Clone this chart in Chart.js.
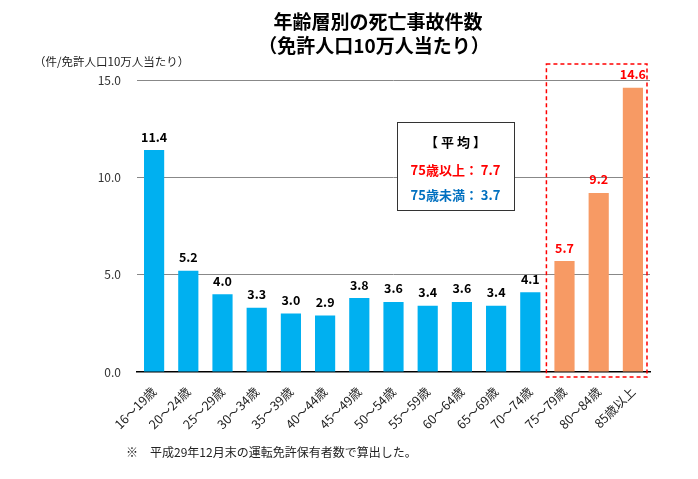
<!DOCTYPE html>
<html>
<head>
<meta charset="utf-8">
<script src="https://cdn.jsdelivr.net/npm/chart.js@4"></script>
<style>
  html, body { margin: 0; padding: 0; background: #fff; }
  #wrap { width: 698px; height: 479px; }
</style>
</head>
<body>
<div id="wrap"><canvas id="chart1" width="698" height="479"></canvas></div>
<script>
const ageGroups = ['16～19歳', '20～24歳', '25～29歳', '30～34歳', '35～39歳', '40～44歳', '45～49歳',
  '50～54歳', '55～59歳', '60～64歳', '65～69歳', '70～74歳', '75～79歳', '80～84歳', '85歳以上'];
const deathRate = [11.4, 5.2, 4.0, 3.3, 3.0, 2.9, 3.8, 3.6, 3.4, 3.6, 3.4, 4.1, 5.7, 9.2, 14.6];
const yTicks = [0, 5, 10, 15];
const avgOver75 = 7.7;
const avgUnder75 = 3.7;

const JP = '"Noto Sans CJK JP", "Noto Sans", sans-serif';
const blue = '#00B0F0';
const orange = '#F79A64';
const red = '#FF0000';

// older drivers (75+) get the orange colour
const barColors = ageGroups.map((a, i) => i >= 12 ? orange : blue);

const extras = {
  id: 'extras',
  afterDatasetsDraw(chart) {
    const c = chart.ctx;
    const meta = chart.getDatasetMeta(0);
    c.save();
    // value labels
    c.font = 'bold 12.5px ' + JP;
    c.textAlign = 'center';
    c.textBaseline = 'bottom';
    meta.data.forEach((bar, i) => {
      c.fillStyle = i >= 12 ? red : '#000';
      c.fillText(deathRate[i].toFixed(1), bar.x, bar.y - 7);
    });

    // dashed box round the 75+ bars
    const y = chart.scales.y;
    const first = meta.data[12], last = meta.data[14];
    const half = first.width / 2;
    const left = first.x - half - 8, right = last.x + half + 4;
    const top = y.getPixelForValue(15) - 16, bottom = y.getPixelForValue(0) + 5;
    c.strokeStyle = red;
    c.lineWidth = 1.5;
    c.setLineDash([4, 3]);
    c.strokeRect(left, top, right - left, bottom - top);
    c.setLineDash([]);

    // average box
    const bx = 397, by = 122, bw = 117, bh = 88;
    c.fillStyle = '#fff';
    c.fillRect(bx, by, bw, bh);
    c.strokeStyle = '#333';
    c.lineWidth = 1;
    c.strokeRect(bx + 0.5, by + 0.5, bw, bh);
    c.textAlign = 'center';
    c.textBaseline = 'middle';
    c.font = 'bold 13px ' + JP;
    c.fillStyle = '#000';
    c.fillText('【 平 均 】', bx + bw / 2, by + 20);
    c.fillStyle = red;
    c.fillText('75歳以上： ' + avgOver75.toFixed(1), bx + bw / 2, by + 48);
    c.fillStyle = '#0070C0';
    c.fillText('75歳未満： ' + avgUnder75.toFixed(1), bx + bw / 2, by + 73);

    // titles
    c.fillStyle = '#000';
    c.font = 'bold 19px ' + JP;
    c.fillText('年齢層別の死亡事故件数', 378, 22);
    c.fillText('（免許人口10万人当たり）', 374, 46);
    c.font = '11.5px ' + JP;
    c.textAlign = 'left';
    c.fillStyle = '#222';
    c.fillText('（件/免許人口10万人当たり）', 34, 62);
    c.font = '12px ' + JP;
    c.fillText('※　平成29年12月末の運転免許保有者数で算出した。', 126, 452);
    c.restore();
  }
};

new Chart(document.getElementById('chart1'), {
  type: 'bar',
  data: {
    labels: ageGroups,
    datasets: [{
      data: deathRate,
      backgroundColor: barColors,
      categoryPercentage: 1,
      barPercentage: 0.59
    }]
  },
  options: {
    responsive: false,
    animation: false,
    layout: { padding: { top: 80, right: 48, left: 0, bottom: 0 } },
    plugins: { legend: { display: false }, tooltip: { enabled: false } },
    scales: {
      y: {
        min: 0, max: 15,
        afterFit(s) { s.width = 137; },
        afterBuildTicks(s) { s.ticks = yTicks.map(v => ({ value: v })); },
        border: { display: false },
        grid: {
          drawTicks: false,
          color: ctx => ctx.tick.value === 0 ? 'rgba(0,0,0,0)' : '#888',
          lineWidth: 1
        },
        ticks: {
          padding: 16,
          color: '#333',
          font: { family: JP, size: 12 },
          callback: v => v.toFixed(1)
        }
      },
      x: {
        afterFit(s) { s.height = 107; },
        border: { display: true, color: '#000', width: 1.5 },
        grid: { display: false },
        ticks: {
          minRotation: 45, maxRotation: 45,
          padding: 4,
          color: '#222',
          font: { family: JP, size: 12.5 }
        }
      }
    }
  },
  plugins: [extras]
});
</script>
</body>
</html>
